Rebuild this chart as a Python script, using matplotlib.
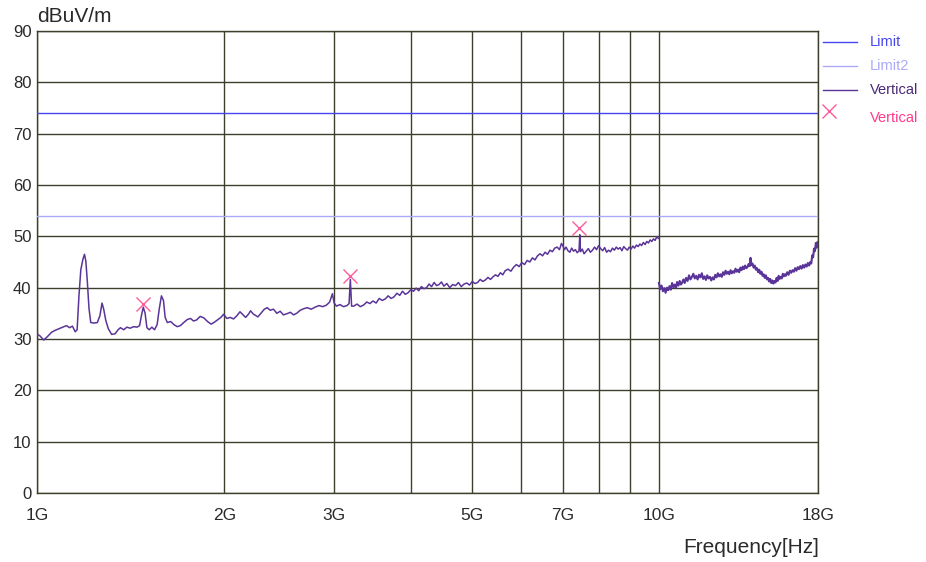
import matplotlib
matplotlib.use("Agg")
import matplotlib.pyplot as plt
from matplotlib.lines import Line2D
from matplotlib.ticker import FixedLocator, NullFormatter

plt.rcParams['font.family'] = ['Liberation Sans', 'DejaVu Sans']

# ---- data ----
limit_level = 74.0
limit2_level = 54.0

x_ticks = [1, 2, 3, 5, 7, 10, 18]
x_tick_labels = ["1G", "2G", "3G", "5G", "7G", "10G", "18G"]
x_minor_grid = [4, 6, 8, 9]
y_ticks = [0, 10, 20, 30, 40, 50, 60, 70, 80, 90]

# 1 GHz - 10 GHz sweep (frequency in GHz, level in dBuV/m)
low_freq = [
    1.000, 1.011, 1.025, 1.040, 1.055, 1.070, 1.085, 1.100, 1.115, 1.128,
    1.140, 1.152, 1.160, 1.168, 1.176, 1.185, 1.192, 1.198, 1.205, 1.212,
    1.220, 1.235, 1.250, 1.262, 1.272, 1.280, 1.290, 1.302, 1.318, 1.335,
    1.350, 1.362, 1.378, 1.395, 1.412, 1.430, 1.448, 1.462, 1.472, 1.482,
    1.492, 1.502, 1.515, 1.530, 1.545, 1.560, 1.572, 1.585, 1.597, 1.607,
    1.620, 1.640, 1.660, 1.680, 1.700, 1.725, 1.745, 1.765, 1.785, 1.805,
    1.830, 1.855, 1.880, 1.905, 1.925, 1.950, 1.975, 1.995, 2.020, 2.045,
    2.070, 2.095, 2.120, 2.140, 2.165, 2.190, 2.205, 2.225, 2.245, 2.265,
    2.290, 2.320, 2.345, 2.370, 2.400, 2.430, 2.460, 2.490, 2.520, 2.555,
    2.585, 2.615, 2.650, 2.685, 2.720, 2.760, 2.800, 2.840, 2.880, 2.920,
    2.955, 2.985, 3.005, 3.030, 3.070, 3.110, 3.150, 3.175, 3.190, 3.205,
    3.230, 3.270, 3.310, 3.350, 3.390, 3.430, 3.470, 3.510, 3.550, 3.590,
    3.630, 3.670, 3.710, 3.750, 3.790, 3.830, 3.870, 3.910, 3.950, 3.990,
    4.030, 4.070, 4.110, 4.150, 4.190, 4.230, 4.270, 4.310, 4.350, 4.390,
    4.430, 4.470, 4.510, 4.560, 4.610, 4.660, 4.710, 4.760, 4.810, 4.860,
    4.910, 4.960, 5.010, 5.060, 5.110, 5.160, 5.210, 5.260, 5.310, 5.360,
    5.410, 5.460, 5.510, 5.560, 5.610, 5.660, 5.720, 5.780, 5.840, 5.900,
    5.960, 6.020, 6.080, 6.140, 6.200, 6.260, 6.320, 6.380, 6.440, 6.500,
    6.560, 6.620, 6.680, 6.740, 6.800, 6.860, 6.920, 6.970, 7.010, 7.050,
    7.090, 7.140, 7.190, 7.240, 7.290, 7.340, 7.390, 7.440, 7.460, 7.480,
    7.530, 7.580, 7.640, 7.700, 7.760, 7.820, 7.880, 7.940, 8.000, 8.060,
    8.120, 8.180, 8.240, 8.300, 8.360, 8.420, 8.480, 8.540, 8.600, 8.660,
    8.720, 8.780, 8.840, 8.900, 8.960, 9.020, 9.080, 9.140, 9.200, 9.260,
    9.320, 9.380, 9.440, 9.500, 9.560, 9.620, 9.680, 9.740, 9.800, 9.860,
    9.920, 9.980,
]
low_level = [
    31.0, 30.6, 29.8, 30.5, 31.3, 31.7, 32.0, 32.3, 32.6, 32.2,
    32.5, 31.4, 31.8, 38.5, 43.5, 45.5, 46.5, 45.2, 41.0, 36.0,
    33.2, 33.1, 33.2, 34.5, 37.0, 35.8, 33.6, 32.0, 30.9, 31.0,
    31.8, 32.2, 31.8, 32.3, 32.1, 32.4, 32.3, 32.6, 34.6, 36.2,
    35.0, 32.2, 31.8, 32.3, 31.8, 32.8, 35.8, 38.4, 37.5, 34.2,
    33.2, 33.4, 32.8, 32.4, 32.6, 33.3, 33.8, 34.0, 33.5, 33.7,
    34.4, 34.1, 33.4, 32.9, 33.2, 33.7, 34.2, 34.8, 34.0, 34.2,
    33.9, 34.5, 35.3, 34.8, 34.2, 34.9, 35.5, 34.9, 34.6, 34.3,
    35.0, 35.8, 36.1, 35.6, 35.8, 35.0, 35.4, 34.7, 34.9, 35.2,
    34.7, 35.0, 35.6, 35.9, 36.1, 35.8, 36.2, 36.5, 36.3, 36.6,
    37.2, 38.8, 37.0, 36.4, 36.7, 36.3, 36.5, 36.9, 41.6, 36.4,
    36.4, 36.8, 36.3, 36.6, 37.2, 36.9, 37.4, 37.0, 37.9, 37.5,
    37.8, 38.4, 37.9, 38.2, 38.9, 38.5, 39.3, 38.7, 39.0, 39.6,
    39.3, 39.9, 39.4, 40.2, 39.8, 40.0, 40.7, 40.2, 41.0, 40.4,
    40.6, 41.1, 40.3, 40.8, 40.0, 40.6, 40.4, 41.0, 40.2, 40.7,
    40.9, 40.5, 41.2, 40.8, 41.0, 41.6, 41.2, 41.5, 42.0, 41.6,
    42.1, 42.5, 42.2, 42.9, 42.5, 43.3, 43.6, 43.2, 44.0, 44.5,
    44.1, 44.9, 44.5, 45.3, 45.0, 45.8, 45.4, 46.2, 46.6, 46.2,
    46.9, 46.5, 47.3, 47.0, 47.7, 47.9, 47.4, 48.6, 48.1, 47.4,
    47.9, 47.2, 46.9, 47.7, 47.1, 47.4, 46.8, 47.2, 50.3, 47.0,
    47.5, 46.6, 47.1, 47.6, 46.9, 47.3, 47.9, 47.4, 48.2, 47.6,
    47.2, 47.8, 46.9, 47.3, 47.0, 47.7, 47.3, 47.9, 47.5, 47.8,
    47.2, 48.0, 47.6, 47.3, 47.9, 47.5, 48.1, 47.7, 48.3, 48.0,
    48.5, 48.2, 48.8, 48.4, 49.0, 48.7, 49.3, 49.0, 49.5, 49.2,
    49.9, 49.6,
]

# 10 GHz - 18 GHz sweep
high_freq = [
    10.00, 10.05, 10.10, 10.15, 10.20, 10.25, 10.30, 10.35, 10.40, 10.45,
    10.50, 10.55, 10.60, 10.65, 10.70, 10.75, 10.80, 10.85, 10.90, 10.95,
    11.00, 11.06, 11.12, 11.18, 11.24, 11.30, 11.36, 11.42, 11.48, 11.54,
    11.60, 11.66, 11.72, 11.78, 11.84, 11.90, 11.96, 12.02, 12.08, 12.14,
    12.20, 12.26, 12.32, 12.38, 12.44, 12.50, 12.56, 12.62, 12.68, 12.74,
    12.80, 12.86, 12.92, 12.98, 13.04, 13.10, 13.16, 13.22, 13.28, 13.34,
    13.40, 13.46, 13.52, 13.58, 13.64, 13.70, 13.76, 13.82, 13.88, 13.94,
    14.00, 14.04, 14.08, 14.14, 14.20, 14.26, 14.32, 14.38, 14.44, 14.50,
    14.56, 14.62, 14.68, 14.74, 14.80, 14.86, 14.92, 14.98, 15.04, 15.10,
    15.16, 15.22, 15.28, 15.34, 15.40, 15.46, 15.52, 15.58, 15.64, 15.70,
    15.76, 15.82, 15.88, 15.94, 16.00, 16.08, 16.16, 16.24, 16.32, 16.40,
    16.48, 16.56, 16.64, 16.72, 16.80, 16.88, 16.96, 17.04, 17.12, 17.20,
    17.28, 17.36, 17.44, 17.52, 17.58, 17.64, 17.70, 17.76, 17.82, 17.88,
    17.94, 18.00,
]
high_level = [
    40.9, 39.7, 40.4, 39.3, 39.9, 39.0, 40.0, 39.5, 40.3, 39.6,
    40.9, 40.1, 40.6, 39.9, 41.1, 40.4, 41.3, 40.6, 41.0, 41.6,
    40.9, 41.9, 41.3, 42.4, 41.6, 42.1, 42.7, 41.8, 42.3, 41.6,
    42.5, 42.0, 42.8, 41.7, 42.2, 41.5, 42.4, 41.8, 42.1, 41.4,
    42.0, 41.6, 42.5, 42.0, 42.8, 42.2, 42.6, 42.1, 43.0, 42.5,
    43.3, 42.7, 43.1, 42.6, 43.4, 42.8, 43.2, 42.9, 43.7, 43.1,
    43.5, 43.0, 43.9, 43.4, 44.1, 43.6, 44.3, 43.8, 44.0, 44.6,
    44.2, 45.8, 44.4, 44.7, 43.9, 44.3, 43.5, 43.8, 43.0, 43.5,
    42.7, 43.1, 42.3, 42.6, 41.9, 42.4, 41.6, 41.9, 41.2, 41.7,
    40.9, 41.4, 40.8, 41.3, 41.0, 41.9, 41.3, 42.3, 41.7, 42.1,
    41.8, 42.7, 42.2, 42.6, 42.3, 43.0, 42.5, 43.3, 42.9, 43.4,
    43.1, 43.8, 43.3, 44.0, 43.6, 44.2, 43.7, 44.4, 43.9, 44.5,
    44.1, 44.8, 44.3, 45.0, 44.7, 46.3, 45.9, 47.6, 47.1, 48.7,
    47.8, 48.9,
]

# peak markers
peak_freq = [1.48, 3.19, 7.44]
peak_level = [36.9, 42.3, 51.6]

# ---- styles ----
grid_color = "#3e3e2c"
trace_color = "#5a3498"
limit_color = "#4646f0"
limit2_color = "#aaaaf8"
marker_color = "#ff5a9a"

fig = plt.figure(figsize=(9.26, 5.62), dpi=100)
ax = fig.add_axes([0.040, 0.1228, 0.843, 0.8221])

ax.set_xscale("log")
ax.set_xlim(1, 18)
ax.set_ylim(0, 90)

ax.axhline(limit_level, color=limit_color, lw=1.0, zorder=3)
ax.axhline(limit2_level, color=limit2_color, lw=1.0, zorder=3)

ax.plot(low_freq, low_level, color=trace_color, lw=1.1, zorder=4)
ax.plot(high_freq, high_level, color=trace_color, lw=1.5, zorder=4)
ax.plot(peak_freq, peak_level, linestyle="none", marker="x",
        markersize=10, markeredgewidth=1.0, color=marker_color, zorder=5)

ax.xaxis.set_major_locator(FixedLocator(x_ticks))
ax.set_xticklabels(x_tick_labels)
ax.xaxis.set_minor_locator(FixedLocator(x_minor_grid))
ax.xaxis.set_minor_formatter(NullFormatter())
ax.set_yticks(y_ticks)

ax.grid(True, which="both", color=grid_color, lw=1.0, zorder=1)
ax.set_axisbelow(True)
for s in ax.spines.values():
    s.set_color(grid_color)
    s.set_linewidth(1.0)

ax.tick_params(axis="both", which="both", length=0, labelcolor="#2a2a2a")
ax.tick_params(axis="x", pad=11, labelsize=12.5)
ax.tick_params(axis="y", pad=4, labelsize=12)

fig.text(0.040, 0.954, "dBuV/m", fontsize=15, color="#2a2a2a",
         ha="left", va="bottom")
fig.text(0.885, 0.025, "Frequency[Hz]", fontsize=15, color="#2a2a2a",
         ha="right", va="center")

# legend at the right edge
legend_rows = [
    ("Limit", limit_color, limit_color, 0.925),
    ("Limit2", limit2_color, limit2_color, 0.8826),
    ("Vertical", trace_color, "#4a2a7a", 0.840),
]
for label, lcolor, tcolor, y in legend_rows:
    fig.add_artist(Line2D([0.889, 0.925], [y, y], color=lcolor, lw=1.0,
                          transform=fig.transFigure))
    fig.text(0.939, y, label, fontsize=10.5, color=tcolor,
             ha="left", va="center")
fig.add_artist(Line2D([0.895], [0.8025], marker="x", markersize=10,
                      markeredgewidth=1.0, color=marker_color,
                      linestyle="none", transform=fig.transFigure))
fig.text(0.939, 0.790, "Vertical", fontsize=10.5, color="#ff3a8c",
         ha="left", va="center")

fig.savefig("out.png", dpi=100)
